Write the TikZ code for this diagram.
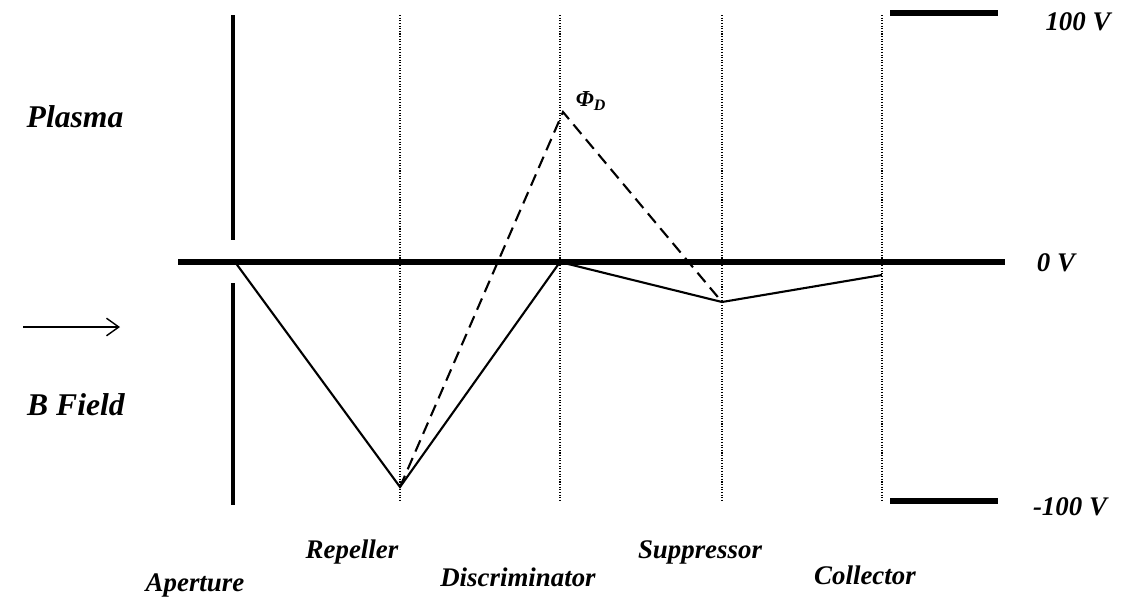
\documentclass[tikz,border=0pt]{standalone}
\usepackage{fontspec}
\setmainfont{Liberation Serif}
\usetikzlibrary{arrows.meta}
\begin{document}
\begin{tikzpicture}[x=0.02cm, y=-0.02cm,
    lbl/.style={font=\fontsize{15.3}{18}\selectfont\bfseries\itshape, inner sep=0pt},
    biglbl/.style={font=\fontsize{18}{21}\selectfont\bfseries\itshape, inner sep=0pt},
    grid/.style={dash pattern=on 0.6pt off 0.9pt, line width=1pt},
    bar/.style={line width=3.4pt},
    pot/.style={line width=1.2pt, line join=miter}]
  \useasboundingbox (0,0) rectangle (1130,603);
  % electrodes
  \draw[line width=2pt] (233,15) -- (233,240) (233,283) -- (233,505);
  \foreach \gx in {400,560,722,882}
    \draw[grid] (\gx,15) -- (\gx,500);
  % voltage levels
  \draw[bar] (178,262) -- (1005,262);
  \draw[bar] (890,13) -- (998,13);
  \draw[bar] (890,501) -- (998,501);
  \node[lbl] (top) at (1078,22) {100 V};
  \node[lbl] (zero) at (1056,263) {0 V};
  \node[lbl] (bot) at (1070,507) {-100 V};
  % potential profile
  \coordinate (pA) at (235,262);
  \coordinate (pR) at (400,487);
  \coordinate (pD) at (560,262);
  \coordinate (pS) at (722,302);
  \coordinate (pC) at (882,275);
  \coordinate (pPhi) at (563,112);
  \draw[pot] (pA) -- (pR) -- (pD) -- (pS) -- (pC);
  \draw[pot, dash pattern=on 7pt off 4pt] (pR) -- (pPhi) -- (pS);
  \node[font=\fontsize{13}{15}\selectfont\bfseries\itshape] (phi) at (591,101) {Φ\textsubscript{D}};
  % side labels
  \node[biglbl] (plasma) at (75,117) {Plasma};
  \node[biglbl] (bfield) at (76,405) {B Field};
  \coordinate (arrS) at (23,327);
  \coordinate (arrE) at (120,327);
  \draw[line width=0.8pt, -{Straight Barb[length=7pt, width=10pt]}] (arrS) -- (arrE);
  % electrode names
  \node[lbl] (aper) at (195,585) {Aperture};
  \node[lbl] (rep) at (352,552) {Repeller};
  \node[lbl] (disc) at (518,577) {Discriminator};
  \node[lbl] (supp) at (700,552) {Suppressor};
  \node[lbl] (coll) at (865,575) {Collector};
\end{tikzpicture}
\end{document}
